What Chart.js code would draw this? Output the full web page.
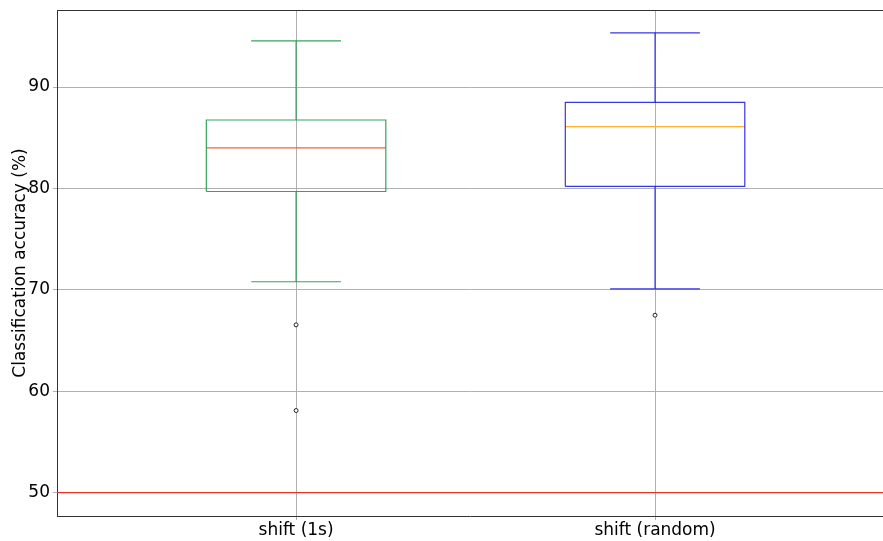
<!DOCTYPE html>
<html>
<head>
<meta charset="utf-8">
<script src="https://cdn.jsdelivr.net/npm/chart.js@4"></script>
<style>
  html, body { margin: 0; padding: 0; background: #fff; overflow: hidden; }
  canvas { display: block; }
</style>
</head>
<body>
<canvas id="boxChart" width="883" height="541"></canvas>
<script>
// Box plot data
const categories = ['shift (1s)', 'shift (random)'];
const positions = [1, 2];
const whiskerLow = [70.8, 70.1];
const q1 = [79.7, 80.2];
const medians = [84.0, 86.1];
const q3 = [86.75, 88.5];
const whiskerHigh = [94.55, 95.35];
const outliers = [[66.55, 58.1], [67.5]];
const chanceLevel = 50;
const yTicks = [50, 60, 70, 80, 90];

const boxColors = ['rgba(30,155,75,0.9)', 'rgba(20,20,220,0.85)'];
const medianColors = ['#f5603a', '#ffb02e'];
const xMin = 0.334, xMax = 2.635;
const halfBox = 0.25, halfCap = 0.125;

const datasets = [];

// chance level line
datasets.push({
    type: 'line',
    data: [{ x: xMin, y: chanceLevel }, { x: xMax, y: chanceLevel }],
    borderColor: '#e8302a',
    borderWidth: 1.3,
    pointRadius: 0
});

positions.forEach((p, i) => {
    const c = boxColors[i];
    // box outline
    datasets.push({
        type: 'line',
        data: [
            { x: p - halfBox, y: q1[i] }, { x: p + halfBox, y: q1[i] },
            { x: p + halfBox, y: q3[i] }, { x: p - halfBox, y: q3[i] },
            { x: p - halfBox, y: q1[i] }
        ],
        borderColor: c, borderWidth: 1.2, pointRadius: 0, tension: 0
    });
    // whiskers
    datasets.push({
        type: 'line',
        data: [{ x: p, y: q3[i] }, { x: p, y: whiskerHigh[i] }],
        borderColor: c, borderWidth: 1.2, pointRadius: 0
    });
    datasets.push({
        type: 'line',
        data: [{ x: p, y: q1[i] }, { x: p, y: whiskerLow[i] }],
        borderColor: c, borderWidth: 1.2, pointRadius: 0
    });
    // caps
    datasets.push({
        type: 'line',
        data: [{ x: p - halfCap, y: whiskerHigh[i] }, { x: p + halfCap, y: whiskerHigh[i] }],
        borderColor: c, borderWidth: 1.2, pointRadius: 0
    });
    datasets.push({
        type: 'line',
        data: [{ x: p - halfCap, y: whiskerLow[i] }, { x: p + halfCap, y: whiskerLow[i] }],
        borderColor: c, borderWidth: 1.2, pointRadius: 0
    });
    // median
    datasets.push({
        type: 'line',
        data: [{ x: p - halfBox, y: medians[i] }, { x: p + halfBox, y: medians[i] }],
        borderColor: medianColors[i], borderWidth: 1.2, pointRadius: 0
    });
    // fliers
    datasets.push({
        type: 'scatter',
        data: outliers[i].map(v => ({ x: p, y: v })),
        pointRadius: 2,
        pointBackgroundColor: '#ffffff',
        pointBorderColor: '#222222',
        pointBorderWidth: 1
    });
});

// top spine like matplotlib (right one falls outside the picture)
const framePlugin = {
    id: 'frame',
    afterDatasetsDraw(chart) {
        const { ctx, chartArea: a } = chart;
        ctx.save();
        ctx.strokeStyle = '#333';
        ctx.lineWidth = 1;
        ctx.beginPath();
        ctx.moveTo(a.left, a.top + 0.5);
        ctx.lineTo(a.right, a.top + 0.5);
        ctx.stroke();
        ctx.restore();
    }
};

document.addEventListener('DOMContentLoaded', function () {
    const ctx = document.getElementById('boxChart').getContext('2d');
    new Chart(ctx, {
        type: 'line',
        data: { datasets: datasets },
        options: {
            responsive: false,
            animation: false,
            layout: { autoPadding: false, padding: { top: 10, right: 0, left: 0, bottom: 0 } },
            plugins: { legend: { display: false }, tooltip: { enabled: false } },
            scales: {
                x: {
                    type: 'linear',
                    min: xMin,
                    max: xMax,
                    afterBuildTicks: s => { s.ticks = positions.map(v => ({ value: v })); },
                    afterFit: s => { s.height = 25; s.paddingLeft = 0; s.paddingRight = 0; },
                    ticks: {
                        color: '#000',
                        font: { family: 'DejaVu Sans', size: 17 },
                        padding: 0,
                        maxRotation: 0,
                        callback: v => categories[positions.indexOf(v)]
                    },
                    grid: { color: '#b0b0b0', tickLength: 4, drawTicks: true },
                    border: { color: '#333' }
                },
                y: {
                    min: 47.7,
                    max: 97.6,
                    afterBuildTicks: s => { s.ticks = yTicks.map(v => ({ value: v })); },
                    afterFit: s => { s.width = 57; s.paddingTop = 0; s.paddingBottom = 0; },
                    title: {
                        display: true,
                        text: 'Classification accuracy (%)',
                        color: '#000',
                        font: { family: 'DejaVu Sans', size: 17 },
                        padding: { top: 10, bottom: 0 }
                    },
                    ticks: {
                        color: '#000',
                        font: { family: 'DejaVu Sans', size: 17 },
                        padding: 3
                    },
                    grid: { color: '#b0b0b0', tickLength: 4 },
                    border: { color: '#333' }
                }
            }
        },
        plugins: [framePlugin]
    });
});
</script>
</body>
</html>
